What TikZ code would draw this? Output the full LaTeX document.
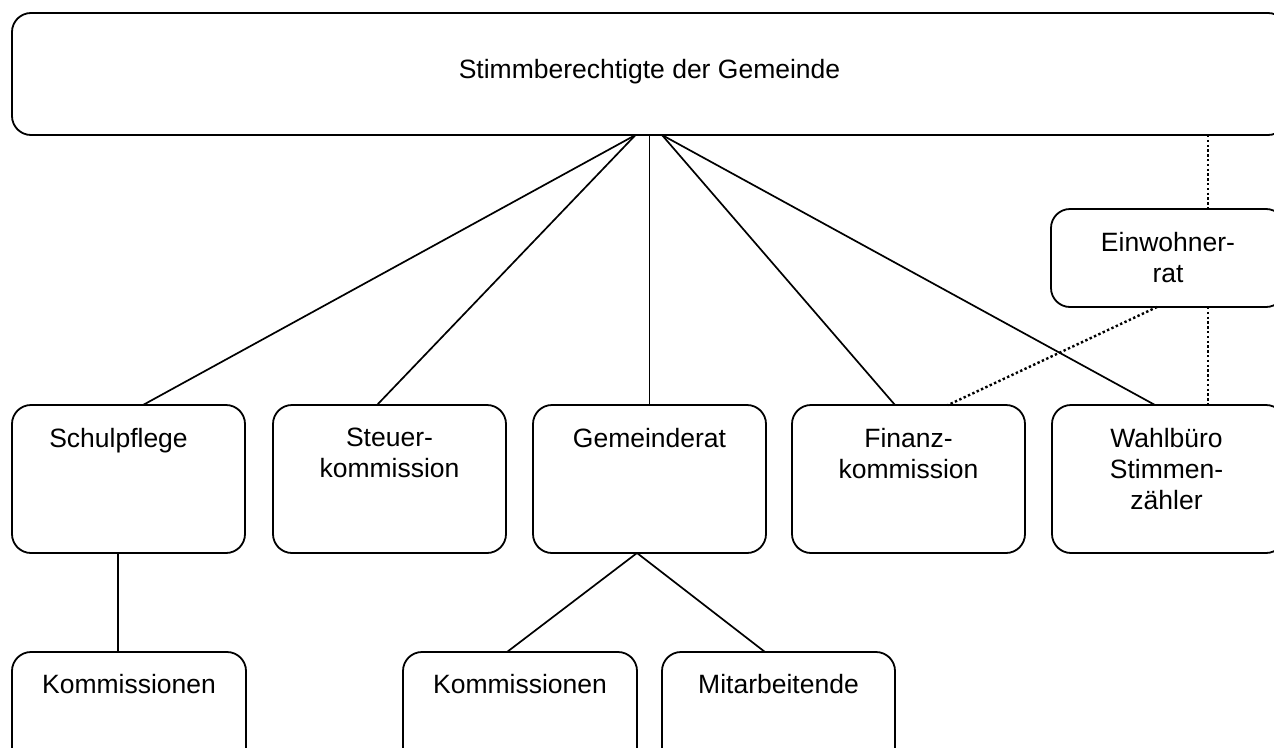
\documentclass[tikz,border=0pt]{standalone}
\usepackage{fontspec}
\setmainfont{Liberation Sans}
\usetikzlibrary{calc}
\begin{document}
\begin{tikzpicture}[x=1pt,y=-1pt,
  box/.style={draw, rounded corners=19pt, line width=1.8pt, inner sep=0pt, outer sep=0pt, anchor=north west},
  lbl/.style={align=center, inner sep=0pt, font=\fontsize{26.5}{31}\selectfont},
  conn/.style={line width=1.7pt},
  dot/.style={line width=2.4pt, dash pattern=on 2.4pt off 2.4pt}]
\useasboundingbox (0,0) rectangle (1274,747);
\clip (0,0) rectangle (1274,747);
% boxes
\node[box, minimum width=1275pt, minimum height=122pt] (top) at (12,13) {};
\node[box, minimum width=234pt, minimum height=98pt] (ein) at (1051,209) {};
\node[box, minimum width=233pt, minimum height=148pt] (school) at (12,405) {};
\node[box, minimum width=233pt, minimum height=148pt] (steuer) at (273,405) {};
\node[box, minimum width=233pt, minimum height=148pt] (gem) at (533,405) {};
\node[box, minimum width=233pt, minimum height=148pt] (fin) at (792,405) {};
\node[box, minimum width=233pt, minimum height=148pt] (wahl) at (1052,405) {};
\node[box, minimum width=234pt, minimum height=120pt] (komA) at (12,652) {};
\node[box, minimum width=234pt, minimum height=120pt] (komB) at (403,652) {};
\node[box, minimum width=233pt, minimum height=120pt] (mit) at (662,652) {};
% labels
\node[lbl] (topT) at ($(top.center)+(0,-2)$) {Stimmberechtigte der Gemeinde};
\node[lbl] (einT) at (ein.center) {Einwohner-\\rat};
\node[lbl, anchor=north] (schoolT) at ($(school.north)+(-10,23)$) {Schulpflege};
\node[lbl, anchor=north] (steuerT) at ($(steuer.north)+(0,23)$) {Steuer-\\kommission};
\node[lbl, anchor=north] (gemT) at ($(gem.north)+(0,23)$) {Gemeinderat};
\node[lbl, anchor=north] (finT) at ($(fin.north)+(0,23)$) {Finanz-\\kommission};
\node[lbl, anchor=north] (wahlT) at ($(wahl.north)+(-2,23)$) {Wahlbüro\\Stimmen-\\zähler};
\node[lbl, anchor=north] (komAT) at ($(komA.north)+(0,22)$) {Kommissionen};
\node[lbl, anchor=north] (komBT) at ($(komB.north)+(0,22)$) {Kommissionen};
\node[lbl, anchor=north] (mitT) at ($(mit.north)+(0,22)$) {Mitarbeitende};
% connectors
\draw[conn] ($(top.south)+(-14,0)$) -- ($(school.north)+(14.5,0)$);
\draw[conn] ($(top.south)+(-14,0)$) -- ($(steuer.north)+(-12.5,0)$);
\draw[conn] (top.south) -- (gem.north);
\draw[conn] ($(top.south)+(12.5,0)$) -- ($(fin.north)+(-13.5,0)$);
\draw[conn] ($(top.south)+(12.5,0)$) -- ($(wahl.north)+(-13.5,0)$);
\draw[conn] ($(school.south)+(-10.5,0)$) -- ($(komA.north)+(-11,0)$);
\draw[conn] ($(gem.south)+(-12.5,0)$) -- ($(komB.north)+(-13,0)$);
\draw[conn] ($(gem.south)+(-12.5,0)$) -- ($(mit.north)+(-13.5,0)$);
\draw[dot] ($(top.south)+(558.5,0)$) -- ($(ein.north)+(40,0)$);
\draw[dot] ($(ein.south)+(40,0)$) -- ($(wahl.north)+(39.5,0)$);
\draw[dot] ($(ein.south)+(-11,0)$) -- ($(fin.north)+(39.5,0)$);
\end{tikzpicture}
\end{document}
